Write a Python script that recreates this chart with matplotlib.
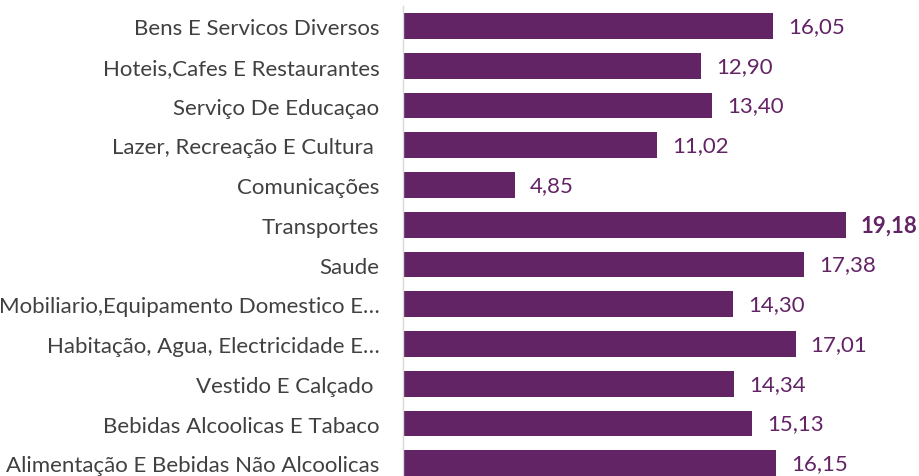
import matplotlib
matplotlib.use("Agg")
import matplotlib.pyplot as plt

categories = [
    "Bens E Servicos Diversos",
    "Hoteis,Cafes E Restaurantes",
    "Serviço De Educaçao",
    "Lazer, Recreação E Cultura ",
    "Comunicações",
    "Transportes",
    "Saude",
    "Mobiliario,Equipamento Domestico E…",
    "Habitação, Agua, Electricidade E…",
    "Vestido E Calçado ",
    "Bebidas Alcoolicas E Tabaco",
    "Alimentação E Bebidas Não Alcoolicas",
]
values = [16.05, 12.90, 13.40, 11.02, 4.85, 19.18, 17.38, 14.30, 17.01, 14.34, 15.13, 16.15]

plt.rcParams['font.family'] = ['Lato', 'DejaVu Sans']
bar_color = "#632466"
text_color = "#404040"

fig = plt.figure(figsize=(9.2, 4.77), dpi=100)
ax = fig.add_axes([0.438, -0.015, 0.552, 1.0])

y = list(range(len(categories)))[::-1]
ax.barh(y, values, height=0.65, color=bar_color)
ax.set_ylim(-0.5, len(categories) - 0.5)
ax.set_xlim(0, 22)

ax.set_yticks(y)
ax.set_yticklabels(categories, fontsize=16, color=text_color)
ax.tick_params(axis='y', length=0, pad=17)
ax.set_xticks([])

for s in ['top', 'right', 'bottom']:
    ax.spines[s].set_visible(False)
ax.spines['left'].set_color("#d9d9d9")
ax.spines['left'].set_linewidth(1)

vmax = max(values)
for yi, v in zip(y, values):
    ax.text(v + 0.65, yi, f"{v:.2f}".replace('.', ','), va='center', ha='left',
            fontsize=16, color=bar_color,
            fontweight='bold' if v == vmax else 'normal')

fig.savefig("out.png", dpi=100)
